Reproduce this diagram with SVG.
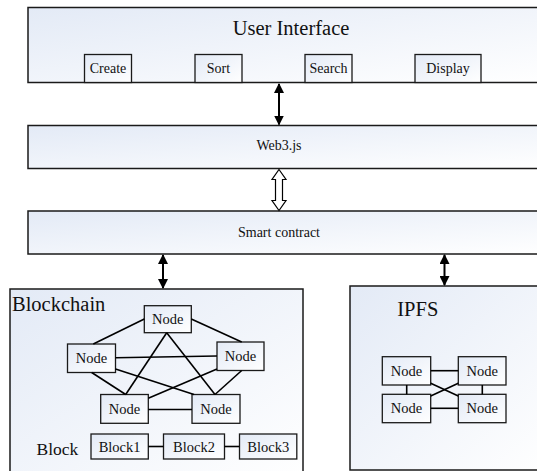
<svg xmlns="http://www.w3.org/2000/svg" width="537" height="471" viewBox="0 0 537 471" font-family="'Liberation Serif', 'Times New Roman', serif">
  <defs>
    <linearGradient id="panelFill" x1="0" y1="0" x2="1" y2="1">
      <stop offset="0" stop-color="#e3eaf6"/>
      <stop offset="1" stop-color="#ffffff"/>
    </linearGradient>
    <marker id="head" viewBox="0 0 10 10" refX="9" refY="5" markerWidth="5" markerHeight="5" orient="auto-start-reverse" markerUnits="strokeWidth">
      <path d="M0,0 L10,5 L0,10 z" fill="#000"/>
    </marker>
  </defs>
  <style>
    .panel { fill: url(#panelFill); stroke: #1a1a1a; stroke-width: 1.5; }
    .box { fill: url(#panelFill); stroke: #1a1a1a; stroke-width: 1.3; }
    .link { stroke: #000; stroke-width: 1.6; fill: none; }
    .arrow { stroke: #000; stroke-width: 2; fill: none; marker-start: url(#head); marker-end: url(#head); }
    text { font-family: 'Liberation Serif', 'Times New Roman', serif; fill: #111; }
    .title { font-size: 20.5px; }
    .label { font-size: 14px; text-anchor: middle; }
    .small { font-size: 14.5px; text-anchor: middle; }
  </style>

  <!-- User interface layer -->
  <g id="user-interface">
    <rect class="panel" x="28" y="7.5" width="520" height="75"/>
    <text class="title" x="291" y="35" text-anchor="middle">User Interface</text>
  </g>
  <g id="create">
    <rect class="box" x="84.5" y="54.5" width="47" height="28"/>
    <text class="label" x="108" y="73">Create</text>
  </g>
  <g id="sort">
    <rect class="box" x="195" y="54.5" width="47" height="28"/>
    <text class="label" x="218.5" y="73">Sort</text>
  </g>
  <g id="search">
    <rect class="box" x="305" y="54.5" width="47" height="28"/>
    <text class="label" x="328.5" y="73">Search</text>
  </g>
  <g id="display">
    <rect class="box" x="415" y="54.5" width="66" height="28"/>
    <text class="label" x="448" y="73">Display</text>
  </g>

  <!-- Web3 and contract layers -->
  <g id="web3">
    <rect class="panel" x="28" y="125.5" width="520" height="43"/>
    <text class="label" x="279" y="150">Web3.js</text>
  </g>
  <g id="smart-contract">
    <rect class="panel" x="28" y="211" width="520" height="43"/>
    <text class="label" x="279" y="236.5">Smart contract</text>
  </g>

  <!-- Blockchain panel -->
  <g id="blockchain">
    <rect class="panel" x="10" y="289" width="293" height="190"/>
    <text class="title" x="12" y="311">Blockchain</text>
    <text x="36.5" y="455" font-size="17.5px">Block</text>
  </g>
  <g id="bc-node-top">
    <rect class="box" x="144.3" y="305.7" width="47" height="27"/>
    <text class="small" x="167.8" y="323.7">Node</text>
  </g>
  <g id="bc-node-left">
    <rect class="box" x="67.5" y="344" width="48" height="28.5"/>
    <text class="small" x="91.5" y="363">Node</text>
  </g>
  <g id="bc-node-right">
    <rect class="box" x="217" y="342" width="47" height="28.5"/>
    <text class="small" x="240.5" y="361">Node</text>
  </g>
  <g id="bc-node-bottom-left">
    <rect class="box" x="100.7" y="394.5" width="47.6" height="28.8"/>
    <text class="small" x="124.5" y="413.5">Node</text>
  </g>
  <g id="bc-node-bottom-right">
    <rect class="box" x="192" y="394.5" width="48" height="28.8"/>
    <text class="small" x="216" y="413.5">Node</text>
  </g>
  <g id="block1">
    <rect class="box" x="91" y="434" width="57.3" height="25"/>
    <text class="small" x="119.6" y="451.5">Block1</text>
  </g>
  <g id="block2">
    <rect class="box" x="163.5" y="434" width="61" height="25"/>
    <text class="small" x="194" y="451.5">Block2</text>
  </g>
  <g id="block3">
    <rect class="box" x="239.5" y="434" width="57.3" height="25"/>
    <text class="small" x="268.2" y="451.5">Block3</text>
  </g>

  <!-- IPFS panel -->
  <g id="ipfs">
    <rect class="panel" x="350" y="286" width="200" height="184"/>
    <text class="title" x="397.3" y="315.7">IPFS</text>
  </g>
  <g id="ipfs-node-tl">
    <rect class="box" x="382.3" y="356.7" width="48.4" height="28.3"/>
    <text class="small" x="406.5" y="375.7">Node</text>
  </g>
  <g id="ipfs-node-tr">
    <rect class="box" x="458.3" y="356.7" width="47.7" height="28.3"/>
    <text class="small" x="482.2" y="375.7">Node</text>
  </g>
  <g id="ipfs-node-bl">
    <rect class="box" x="382.3" y="394.3" width="48.4" height="28.4"/>
    <text class="small" x="406.5" y="413.3">Node</text>
  </g>
  <g id="ipfs-node-br">
    <rect class="box" x="458.3" y="394.3" width="47.7" height="28.4"/>
    <text class="small" x="482.2" y="413.3">Node</text>
  </g>

  <!-- Connectors -->
  <g id="connectors">
    <line class="arrow" x1="279" y1="84" x2="279" y2="124.5"/>
    <polygon points="279,169.5 286,179.5 282.5,179.5 282.5,200.5 286,200.5 279,210.5 272,200.5 275.5,200.5 275.5,179.5 272,179.5" fill="#fff" stroke="#000" stroke-width="1.2"/>
    <line class="arrow" x1="163" y1="255" x2="163" y2="288"/>
    <line class="arrow" x1="444.5" y1="255" x2="444.5" y2="285"/>

    <!-- blockchain mesh -->
    <line class="link" x1="144.3" y1="319" x2="93.3" y2="344"/>
    <line class="link" x1="191.3" y1="319" x2="241.7" y2="342"/>
    <line class="link" x1="166.7" y1="332.7" x2="125.7" y2="394.5"/>
    <line class="link" x1="166.7" y1="332.7" x2="215" y2="394.5"/>
    <line class="link" x1="115.5" y1="357.7" x2="217" y2="356"/>
    <line class="link" x1="91.7" y1="372.5" x2="125.7" y2="394.5"/>
    <line class="link" x1="115.5" y1="369" x2="194" y2="394.5"/>
    <line class="link" x1="217" y1="369" x2="148.3" y2="398.3"/>
    <line class="link" x1="241.7" y1="370.5" x2="215" y2="394.5"/>
    <line class="link" x1="148.3" y1="409.5" x2="192" y2="409.5"/>
    <line class="link" x1="148.3" y1="446.5" x2="163.5" y2="446.5"/>
    <line class="link" x1="224.5" y1="446.5" x2="239.5" y2="446.5"/>

    <!-- ipfs mesh -->
    <line class="link" x1="430.7" y1="370.7" x2="458.3" y2="370.7"/>
    <line class="link" x1="430.7" y1="408.3" x2="458.3" y2="408.3"/>
    <line class="link" x1="406.7" y1="385" x2="406.7" y2="394.3"/>
    <line class="link" x1="482.3" y1="385" x2="482.3" y2="394.3"/>
    <line class="link" x1="430.7" y1="383.3" x2="458.3" y2="396"/>
    <line class="link" x1="458.3" y1="383.3" x2="430.7" y2="396"/>
  </g>
</svg>
